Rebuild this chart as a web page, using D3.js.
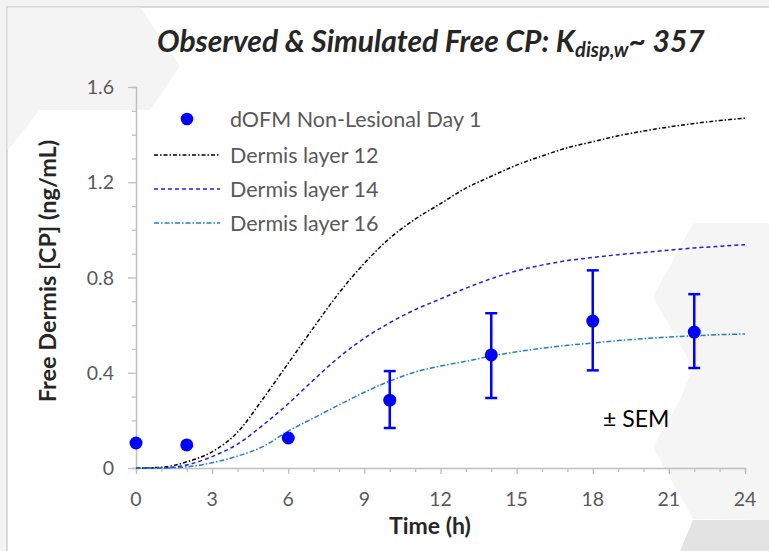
<!DOCTYPE html>
<html>
<head>
<meta charset="utf-8">
<script src="https://cdn.jsdelivr.net/npm/d3@7"></script>
<style>
  body { margin: 0; background: #f3f3f3; }
  svg { display: block; font-family: Lato, "Open Sans", sans-serif; }
</style>
</head>
<body>
<div id="chart"></div>
<script>
// observed points (dOFM Non-Lesional Day 1), mean +/- SEM
const obsTime = [0, 2, 6, 10, 14, 18, 22];
const obsMean = [0.105, 0.097, 0.126, 0.285, 0.475, 0.617, 0.571];
const obsLow  = [null, null, null, 0.168, 0.294, 0.41, 0.42];
const obsHigh = [null, null, null, 0.407, 0.65, 0.83, 0.73];

// simulated curves, hourly
const simTime = d3.range(0, 25);
const layer12 = [0, 0.003, 0.026, 0.068, 0.15, 0.29, 0.44, 0.59, 0.735, 0.86, 0.965, 1.045, 1.11,
  1.175, 1.225, 1.272, 1.31, 1.345, 1.37, 1.395, 1.415, 1.432, 1.447, 1.459, 1.469];
const layer14 = [0, 0, 0.013, 0.048, 0.1, 0.18, 0.27, 0.37, 0.465, 0.545, 0.61, 0.665, 0.71,
  0.755, 0.795, 0.828, 0.852, 0.871, 0.884, 0.896, 0.905, 0.915, 0.924, 0.931, 0.938];
const layer16 = [0, 0, 0.005, 0.022, 0.05, 0.09, 0.155, 0.21, 0.265, 0.318, 0.365, 0.403, 0.428,
  0.448, 0.47, 0.488, 0.503, 0.515, 0.525, 0.535, 0.543, 0.55, 0.555, 0.56, 0.563];

const seriesNames = ["Dermis layer 12", "Dermis layer 14", "Dermis layer 16"];
const seriesColors = ["#000000", "#1e1ee6", "#1f7ed0"];
const seriesDash = ["4,2,1.5,2", "4,3", "5,2,1.5,2"];
const legendObs = "dOFM Non-Lesional Day 1";

const xTicks = d3.range(0, 25, 3);
const yTicks = [0, 0.4, 0.8, 1.2, 1.6];

const W = 769, H = 551;
const svg = d3.select("#chart").append("svg").attr("width", W).attr("height", H);

// slide-like backdrop
svg.append("rect").attr("x", 7).attr("y", 7).attr("width", W).attr("height", H)
  .attr("fill", "#ffffff").attr("stroke", "#c6c6c6").attr("stroke-width", 1.2);
svg.append("polygon").attr("points", "7.6,7.6 140,7.6 180,66 150,110 40,110 7.6,150")
  .attr("fill", "#f4f4f4");
svg.append("polygon").attr("points", "693,223 769,223 769,520 693,519 653,447 680,400 693,367 653,297")
  .attr("fill", "#f5f5f5");
svg.append("polygon").attr("points", "693,520 769,520 769,551 680,551")
  .attr("fill", "#e3e3e3");

const x = d3.scaleLinear().domain([0, 24]).range([136, 745]);
const y = d3.scaleLinear().domain([0, 1.6]).range([468, 87]);

const isMajor = (arr, d) => arr.some((t) => Math.abs(t - d) < 1e-6);

// axes
const axisColor = "#bfbfbf";
const gx = svg.append("g").attr("transform", `translate(0,${y(0)})`)
  .call(d3.axisBottom(x).tickValues(d3.range(0, 25, 1)).tickSize(4).tickFormat(""));
gx.selectAll(".tick line").filter((d) => isMajor(xTicks, d)).attr("y2", 6);
const gy = svg.append("g").attr("transform", `translate(${x(0)},0)`)
  .call(d3.axisLeft(y).tickValues(d3.range(0, 1.61, 0.1)).tickSize(4).tickFormat(""));
gy.selectAll(".tick line").filter((d) => isMajor(yTicks, d)).attr("x2", -8);
[gx, gy].forEach((g) => {
  g.select(".domain").attr("stroke", axisColor).attr("stroke-width", 1.5);
  g.selectAll(".tick line").attr("stroke", axisColor).attr("stroke-width", 1.3);
});

svg.append("g").selectAll("text").data(xTicks).join("text")
  .attr("x", (d) => x(d)).attr("y", 506)
  .attr("text-anchor", "middle").attr("font-size", 19.5).attr("fill", "#595959")
  .text((d) => d);
svg.append("g").selectAll("text").data(yTicks).join("text")
  .attr("x", 114).attr("y", (d) => y(d) + 7)
  .attr("text-anchor", "end").attr("font-size", 19.5).attr("fill", "#595959")
  .text((d) => (d === 0 ? "0" : d.toFixed(1)));

// axis titles
svg.append("text").attr("x", 430).attr("y", 534).attr("text-anchor", "middle")
  .attr("font-size", 23).attr("font-weight", "bold").attr("fill", "#262626").text("Time (h)");
svg.append("text").attr("transform", "translate(56,271) rotate(-90)").attr("text-anchor", "middle")
  .attr("font-size", 23.5).attr("font-weight", "bold").attr("fill", "#262626")
  .text("Free Dermis [CP] (ng/mL)");

// title
const title = svg.append("text").attr("x", 157).attr("y", 52)
  .attr("font-size", 30).attr("font-weight", "bold").attr("font-style", "italic")
  .attr("fill", "#262626");
title.append("tspan").text("Observed & Simulated Free CP: K");
title.append("tspan").attr("font-size", 20).attr("dy", 5).text("disp,w");
title.append("tspan").attr("dy", -5).text("~ 357");

// simulated curves
const line = d3.line().x((d, i) => x(simTime[i])).y((d) => y(d)).curve(d3.curveMonotoneX);
[layer12, layer14, layer16].forEach((s, k) => {
  svg.append("path").datum(s).attr("d", line).attr("fill", "none")
    .attr("stroke", seriesColors[k]).attr("stroke-width", 1.5)
    .attr("stroke-dasharray", seriesDash[k]);
});

// observed with error bars
const obs = obsTime.map((t, i) => ({ t, m: obsMean[i], lo: obsLow[i], hi: obsHigh[i] }));
const eb = svg.append("g").attr("stroke", "#0000ff").attr("stroke-width", 2.5);
obs.filter((d) => d.lo !== null).forEach((d) => {
  eb.append("line").attr("x1", x(d.t)).attr("x2", x(d.t)).attr("y1", y(d.lo)).attr("y2", y(d.hi));
  eb.append("line").attr("x1", x(d.t) - 6).attr("x2", x(d.t) + 6).attr("y1", y(d.lo)).attr("y2", y(d.lo));
  eb.append("line").attr("x1", x(d.t) - 6).attr("x2", x(d.t) + 6).attr("y1", y(d.hi)).attr("y2", y(d.hi));
});
svg.append("g").selectAll("circle").data(obs).join("circle")
  .attr("cx", (d) => x(d.t)).attr("cy", (d) => y(d.m)).attr("r", 6.5).attr("fill", "#0000ff");

// legend
const lg = svg.append("g").attr("font-size", 21.5).attr("fill", "#595959");
lg.append("circle").attr("cx", 187).attr("cy", 119).attr("r", 6.3).attr("fill", "#0000ff");
lg.append("text").attr("x", 230).attr("y", 127).text(legendObs);
seriesNames.forEach((name, k) => {
  const yy = 155 + k * 34;
  lg.append("line").attr("x1", 154).attr("x2", 220).attr("y1", yy).attr("y2", yy)
    .attr("stroke", seriesColors[k]).attr("stroke-width", 1.5).attr("stroke-dasharray", seriesDash[k]);
  lg.append("text").attr("x", 230).attr("y", yy + 8).text(name);
});

svg.append("text").attr("x", 603).attr("y", 427).attr("font-size", 23).attr("fill", "#000")
  .text("± SEM");
</script>
</body>
</html>
